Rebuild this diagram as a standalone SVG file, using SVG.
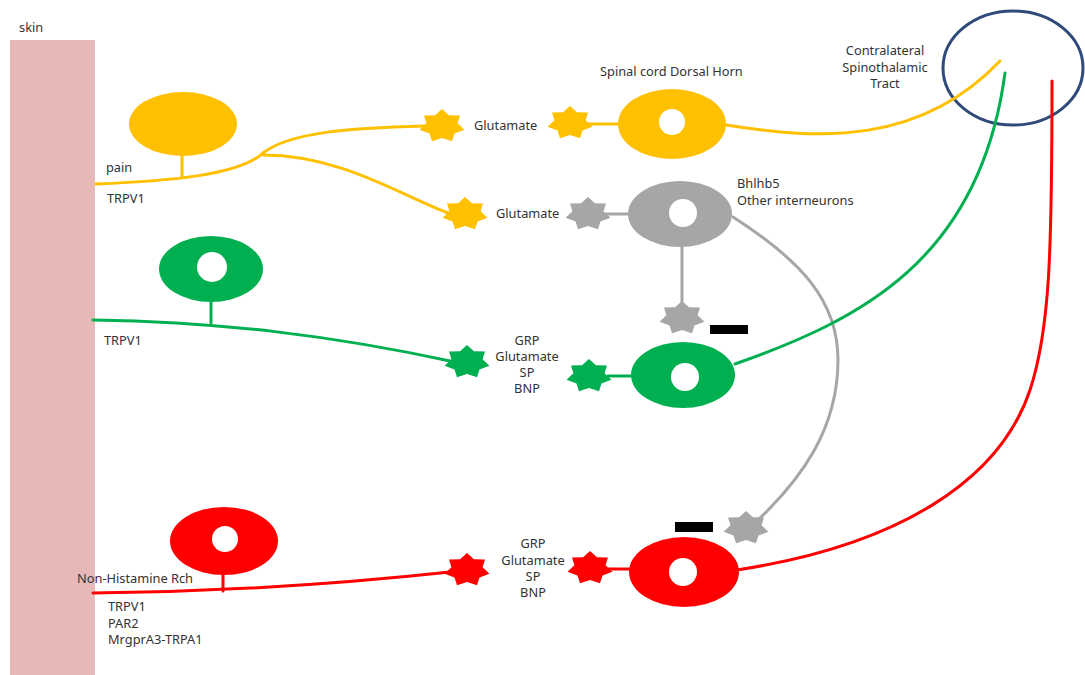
<svg xmlns="http://www.w3.org/2000/svg" xmlns:xlink="http://www.w3.org/1999/xlink" width="1085" height="675" viewBox="0 0 1085 675">
<style>
text{font-family:"Noto Sans","Open Sans","Liberation Sans",sans-serif;font-size:12.8px;fill:#333}
.c{text-anchor:middle}
.ax{fill:none;stroke-width:3;stroke-linecap:round}
.y{stroke:#ffc000}.g{stroke:#00b050}.r{stroke:#ff0000}.gr{stroke:#a6a6a6}
.hole{fill:#fff}
</style>
<defs>
<polygon id="star" points="0,-17 6.94,-10.81 17.98,-10.6 15.6,-2.67 22.42,3.78 12.51,7.48 9.98,15.32 0,12 -9.98,15.32 -12.51,7.48 -22.42,3.78 -15.6,-2.67 -17.98,-10.6 -6.94,-10.81"/>
</defs>
<rect width="1085" height="675" fill="#fff"/>
<g id="skin">
<rect x="10" y="40" width="85" height="635" fill="#e6b9b8"/>
<text x="19" y="32">skin</text>
</g>
<g id="tract">
<ellipse cx="1013" cy="68" rx="70" ry="57" fill="none" stroke="#2f4a7a" stroke-width="3"/>
<text class="c" x="885" y="55">Contralateral</text>
<text class="c" x="885" y="72">Spinothalamic</text>
<text class="c" x="885" y="88">Tract</text>
</g>
<g id="connectors">
<path class="ax y" d="M96,184 C170,181 240,175 263,153"/>
<path class="ax y" d="M263,153 C290,132 350,128 425,126"/>
<path class="ax y" d="M263,155 C340,155 400,195 448,213"/>
<path class="ax y" d="M182,155 L182,177"/>
<path class="ax y" d="M588,124 L620,124"/>
<path class="ax y" d="M726,125 C820,140 920,145 1000,61"/>
<path class="ax gr" d="M606,214 L630,214"/>
<path class="ax gr" d="M682,246 L682,306"/>
<path class="ax gr" d="M733,217 C800,260 838,300 838,360 C838,430 800,480 758,520"/>
<path class="ax g" d="M93,320 C220,322 330,335 455,362"/>
<path class="ax g" d="M211,301 L211,323"/>
<path class="ax g" d="M608,376 L634,376"/>
<path class="ax g" d="M735,364 C860,320 980,260 1005,73"/>
<path class="ax r" d="M93,593 C200,592 330,585 450,572"/>
<path class="ax r" d="M223,574 L223,591"/>
<path class="ax r" d="M608,569 L631,569"/>
<path class="ax r" d="M737,570 C900,545 1000,480 1030,390 C1050,330 1052,250 1052,81"/>
</g>
<g id="pain-neuron">
<ellipse cx="183" cy="124" rx="54" ry="32" fill="#ffc000"/>
<text x="106" y="172">pain</text>
<text x="107" y="203">TRPV1</text>
</g>
<g id="yellow-synapse">
<use href="#star" x="442" y="126" fill="#ffc000"/>
<use href="#star" x="570" y="123" fill="#ffc000"/>
<text x="474" y="130">Glutamate</text>
</g>
<g id="dorsal-horn">
<ellipse cx="672" cy="124" rx="54" ry="35" fill="#ffc000"/>
<circle class="hole" cx="672" cy="122" r="13"/>
<text x="600" y="76">Spinal cord Dorsal Horn</text>
</g>
<g id="yellow-synapse-2">
<use href="#star" x="465" y="214" fill="#ffc000"/>
<use href="#star" x="588" y="214" fill="#a6a6a6"/>
<text x="496" y="218">Glutamate</text>
</g>
<g id="interneuron">
<ellipse cx="680" cy="214" rx="52" ry="33" fill="#a6a6a6"/>
<circle class="hole" cx="683" cy="213" r="14"/>
<text x="737" y="188">Bhlhb5</text>
<text x="737" y="205">Other interneurons</text>
</g>
<g id="inhibit-1">
<use href="#star" x="682" y="318" fill="#a6a6a6"/>
<rect x="710" y="325" width="38" height="9" fill="#000"/>
</g>
<g id="green-neuron">
<ellipse cx="211" cy="269" rx="52" ry="33" fill="#00b050"/>
<circle class="hole" cx="212" cy="267" r="15"/>
<text x="104" y="345">TRPV1</text>
</g>
<g id="green-synapse">
<use href="#star" x="467" y="362" fill="#00b050"/>
<use href="#star" x="589" y="376" fill="#00b050"/>
<text class="c" x="527" y="345">GRP</text>
<text class="c" x="527" y="361">Glutamate</text>
<text class="c" x="527" y="377">SP</text>
<text class="c" x="527" y="393">BNP</text>
</g>
<g id="green-dorsal">
<ellipse cx="683" cy="375" rx="52" ry="33" fill="#00b050"/>
<circle class="hole" cx="685" cy="377" r="14"/>
</g>
<g id="red-neuron">
<ellipse cx="224" cy="541" rx="54" ry="34" fill="#ff0000"/>
<circle class="hole" cx="225" cy="539" r="13"/>
<text x="77" y="583">Non-Histamine Rch</text>
<text x="108" y="611">TRPV1</text>
<text x="108" y="628">PAR2</text>
<text x="108" y="644">MrgprA3-TRPA1</text>
</g>
<g id="red-synapse">
<use href="#star" x="467" y="570" fill="#ff0000"/>
<use href="#star" x="590" y="568" fill="#ff0000"/>
<text class="c" x="533" y="548">GRP</text>
<text class="c" x="533" y="565">Glutamate</text>
<text class="c" x="533" y="581">SP</text>
<text class="c" x="533" y="597">BNP</text>
</g>
<g id="inhibit-2">
<use href="#star" x="746" y="528" fill="#a6a6a6"/>
<rect x="675" y="522" width="38" height="10" fill="#000"/>
</g>
<g id="red-dorsal">
<ellipse cx="684" cy="572" rx="55" ry="35" fill="#ff0000"/>
<circle class="hole" cx="683" cy="572" r="14"/>
</g>
</svg>
